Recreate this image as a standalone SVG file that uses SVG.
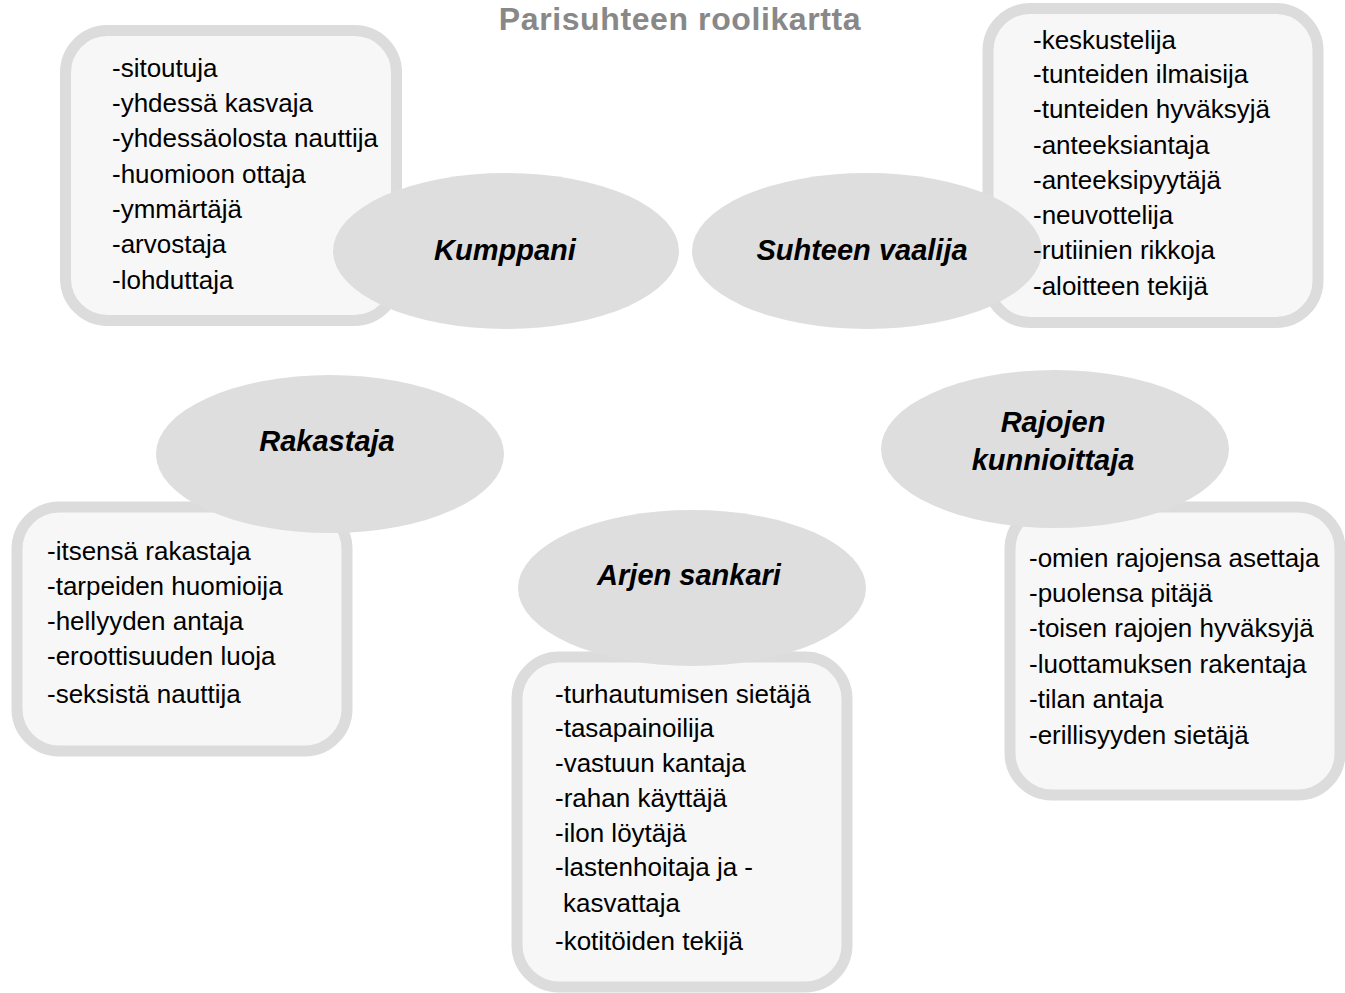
<svg xmlns="http://www.w3.org/2000/svg" width="1345" height="993" viewBox="0 0 1345 993">
<style>
.box{fill:#f7f7f7;stroke:#dcdcdc;stroke-width:11}
.ell{fill:#dedede}
.lbl{font-family:"Liberation Sans",Arial,sans-serif;font-size:29px;font-weight:bold;font-style:italic;fill:#000;text-anchor:middle}
.item{font-family:"Liberation Sans",Arial,sans-serif;font-size:26px;fill:#000}
.title{font-family:"Liberation Sans",Arial,sans-serif;font-size:32px;font-weight:bold;letter-spacing:0.6px;fill:#888888;text-anchor:middle}
</style>
<rect width="1345" height="993" fill="#ffffff"/>
<text class="title" x="680" y="30">Parisuhteen roolikartta</text>
<g id="connectors"></g>
<g id="kumppani">
<rect class="box" x="65.5" y="30.5" width="331" height="290" rx="42" ry="42"/>
<ellipse class="ell" cx="506" cy="251" rx="173" ry="78"/>
<text class="lbl" x="505" y="260">Kumppani</text>
<text class="item" x="112" y="77">-sitoutuja</text>
<text class="item" x="112" y="112">-yhdessä kasvaja</text>
<text class="item" x="112" y="147">-yhdessäolosta nauttija</text>
<text class="item" x="112" y="183">-huomioon ottaja</text>
<text class="item" x="112" y="218">-ymmärtäjä</text>
<text class="item" x="112" y="253">-arvostaja</text>
<text class="item" x="112" y="289">-lohduttaja</text>
</g>
<g id="suhteen-vaalija">
<rect class="box" x="988" y="8.5" width="330" height="314" rx="42" ry="42"/>
<ellipse class="ell" cx="867" cy="251" rx="175" ry="78"/>
<text class="lbl" x="862" y="260">Suhteen vaalija</text>
<text class="item" x="1033" y="49">-keskustelija</text>
<text class="item" x="1033" y="83">-tunteiden ilmaisija</text>
<text class="item" x="1033" y="118">-tunteiden hyväksyjä</text>
<text class="item" x="1033" y="154">-anteeksiantaja</text>
<text class="item" x="1033" y="189">-anteeksipyytäjä</text>
<text class="item" x="1033" y="224">-neuvottelija</text>
<text class="item" x="1033" y="259">-rutiinien rikkoja</text>
<text class="item" x="1033" y="295">-aloitteen tekijä</text>
</g>
<g id="rakastaja">
<rect class="box" x="17" y="507" width="330" height="244" rx="42" ry="42"/>
<ellipse class="ell" cx="330" cy="454" rx="174" ry="79"/>
<text class="lbl" x="327" y="451">Rakastaja</text>
<text class="item" x="47" y="560">-itsensä rakastaja</text>
<text class="item" x="47" y="595">-tarpeiden huomioija</text>
<text class="item" x="47" y="630">-hellyyden antaja</text>
<text class="item" x="47" y="665">-eroottisuuden luoja</text>
<text class="item" x="47" y="703">-seksistä nauttija</text>
</g>
<g id="arjen-sankari">
<rect class="box" x="517" y="657" width="330" height="330" rx="42" ry="42"/>
<ellipse class="ell" cx="692" cy="588" rx="174" ry="78"/>
<text class="lbl" x="689" y="585">Arjen sankari</text>
<text class="item" x="555" y="703">-turhautumisen sietäjä</text>
<text class="item" x="555" y="737">-tasapainoilija</text>
<text class="item" x="555" y="772">-vastuun kantaja</text>
<text class="item" x="555" y="807">-rahan käyttäjä</text>
<text class="item" x="555" y="842">-ilon löytäjä</text>
<text class="item" x="555" y="876">-lastenhoitaja ja -</text>
<text class="item" x="563" y="912">kasvattaja</text>
<text class="item" x="555" y="950">-kotitöiden tekijä</text>
</g>
<g id="rajojen-kunnioittaja">
<rect class="box" x="1010" y="507" width="330" height="288" rx="42" ry="42"/>
<ellipse class="ell" cx="1055" cy="449" rx="174" ry="79"/>
<text class="lbl" x="1053" y="432">Rajojen</text>
<text class="lbl" x="1053" y="470">kunnioittaja</text>
<text class="item" x="1029" y="567">-omien rajojensa asettaja</text>
<text class="item" x="1029" y="602">-puolensa pitäjä</text>
<text class="item" x="1029" y="637">-toisen rajojen hyväksyjä</text>
<text class="item" x="1029" y="673">-luottamuksen rakentaja</text>
<text class="item" x="1029" y="708">-tilan antaja</text>
<text class="item" x="1029" y="744">-erillisyyden sietäjä</text>
</g>
</svg>
